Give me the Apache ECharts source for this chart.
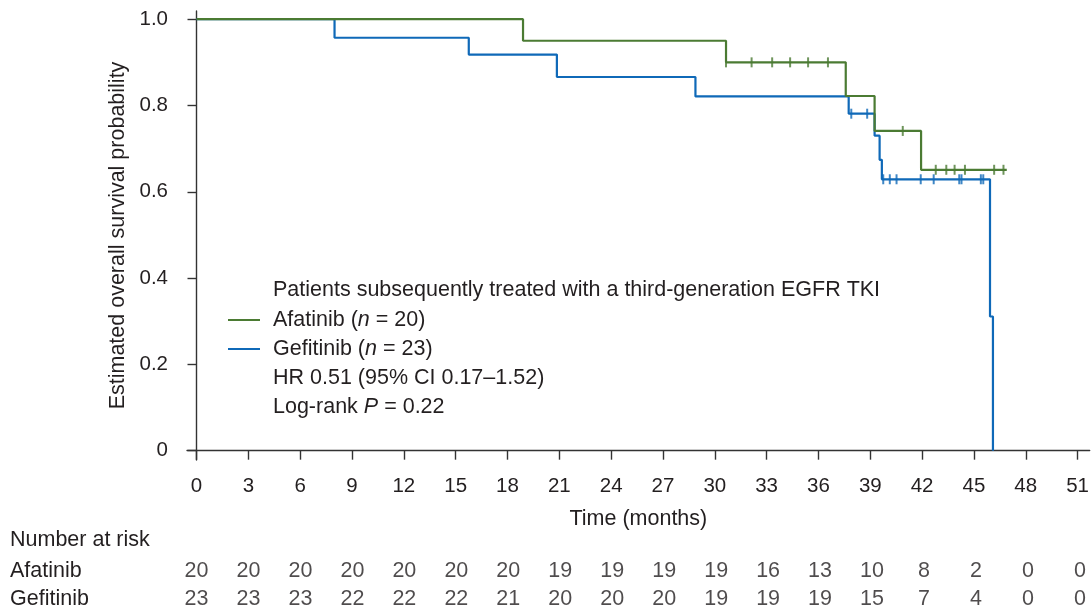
<!DOCTYPE html>
<html><head><meta charset="utf-8">
<script src="https://cdn.jsdelivr.net/npm/echarts@6/dist/echarts.min.js"></script>
<style>html,body{margin:0;padding:0;background:#fff}#c{width:1092px;height:613px}</style>
</head><body><div id="c"></div>
<script>
// ---- data ----
const xTicks = [0,3,6,9,12,15,18,21,24,27,30,33,36,39,42,45,48,51];
const yTicks = [0,0.2,0.4,0.6,0.8,1.0];
const afatinibTimes = [0, 18.9, 30.65, 37.58, 39.25, 41.94, 46.9];
const afatinibSurv  = [1.0, 0.95, 0.90, 0.822, 0.741, 0.651, 0.651];
const afatinibCensor = [30.65, 32.13, 33.32, 34.36, 35.4, 36.55, 40.88, 42.79, 43.4, 43.88, 44.48, 46.17, 46.71];
const gefitinibTimes = [0, 7.99, 15.76, 20.86, 28.88, 37.75, 39.25, 39.54, 39.67, 45.93, 46.1];
const gefitinibSurv  = [1.0, 0.957, 0.918, 0.866, 0.821, 0.781, 0.730, 0.674, 0.629, 0.311, 0];
const gefitinibCensor = [37.9, 38.82, 39.75, 40.13, 40.52, 41.92, 42.67, 44.15, 44.28, 45.4, 45.54];
const afatinibRisk  = [20,20,20,20,20,20,20,19,19,19,19,16,13,10,8,2,0,0];
const gefitinibRisk = [23,23,23,22,22,22,21,20,20,20,19,19,19,15,7,4,0,0];
const seriesNames = ['Afatinib (n = 20)', 'Gefitinib (n = 23)'];
const riskRows = ['Afatinib', 'Gefitinib'];

// ---- style ----
const GREEN = '#4b7b33', BLUE = '#0f69b8', TXT = '#231f20', AX = '#333333';
const FONT = 'Liberation Sans, Arial, Helvetica, sans-serif';
const FS = 21.5, FST = 20.5;

function survAt(times, surv, t) {
  let v = surv[0];
  for (let i = 0; i < times.length; i++) if (times[i] <= t) v = surv[i];
  return v;
}
const pairs = (ts, ss) => ts.map((t, i) => [t, ss[i]]);

const chart = echarts.init(document.getElementById('c'), null, {renderer: 'canvas'});
const X_MIN = -0.55, X_MAX = 51.7;
const option = {
  animation: false,
  backgroundColor: '#fff',
  textStyle: {fontFamily: FONT, color: TXT},
  grid: [
    {left: 187, right: 0, top: 11, bottom: 153, containLabel: false},
    {left: 187, right: 0, top: 557, height: 60, containLabel: false}
  ],
  xAxis: [
    {
      type: 'value', gridIndex: 0, min: X_MIN, max: X_MAX,
      axisLine: {show: true, lineStyle: {color: AX, width: 1.4}},
      axisTick: {show: true, length: 9, lineStyle: {color: AX, width: 1.4}, customValues: xTicks},
      axisLabel: {show: true, customValues: xTicks, margin: 16, fontSize: FST, color: TXT, fontFamily: FONT},
      splitLine: {show: false},
      name: 'Time (months)', nameLocation: 'middle', nameGap: 48,
      nameTextStyle: {fontSize: FS, color: TXT, fontFamily: FONT}
    },
    {type: 'value', gridIndex: 1, min: X_MIN, max: X_MAX, show: false}
  ],
  yAxis: [
    {
      type: 'value', gridIndex: 0, min: -0.0216, max: 1.019,
      axisLine: {show: true, lineStyle: {color: AX, width: 1.4}},
      axisTick: {show: true, length: 9, lineStyle: {color: AX, width: 1.4}, customValues: yTicks},
      axisLabel: {show: true, customValues: yTicks, margin: 19, fontSize: FST, color: TXT, fontFamily: FONT,
        formatter: v => (v === 0 ? '0' : v.toFixed(1))},
      splitLine: {show: false},
      name: 'Estimated overall survival probability', nameLocation: 'middle', nameGap: 54,
      nameTextStyle: {fontSize: FS, color: TXT, fontFamily: FONT}
    },
    {
      type: 'category', gridIndex: 1, data: riskRows, inverse: true,
      axisLine: {show: false}, axisTick: {show: false},
      axisLabel: {show: true, interval: 0, hideOverlap: false, align: 'left', margin: 177,
        fontSize: FS, color: TXT, fontFamily: FONT}
    }
  ],
  legend: {
    data: seriesNames,
    orient: 'vertical', left: 228, top: 309, padding: 0,
    icon: 'rect', itemWidth: 32, itemHeight: 2, itemGap: 7,
    textStyle: {fontSize: FS, color: TXT, fontFamily: FONT, lineHeight: 21,
      rich: {
        a: {fontSize: FS, color: TXT, fontFamily: FONT, lineHeight: 21},
        p: {fontSize: FS, color: TXT, fontFamily: FONT, lineHeight: 21, padding: [0,0,0,8]},
        i: {fontSize: FS, color: TXT, fontFamily: FONT, fontStyle: 'italic', lineHeight: 21}
      }},
    formatter: name => {
      const m = name.match(/^(\S+) \(n = (\d+)\)$/);
      return '{p|' + m[1] + ' (}{i|n}{a| = ' + m[2] + ')}';
    },
    selectedMode: false
  },
  graphic: [
    {type: 'text', x: 273, y: 290, style: {text: 'Patients subsequently treated with a third-generation EGFR TKI',
      fontSize: FS, fontFamily: FONT, fill: TXT, verticalAlign: 'middle'}},
    {type: 'text', x: 273, y: 378, style: {text: 'HR 0.51 (95% CI 0.17\u20131.52)',
      fontSize: FS, fontFamily: FONT, fill: TXT, verticalAlign: 'middle'}},
    {type: 'text', x: 273, y: 407, style: {text: '{a|Log-rank }{i|P}{a| = 0.22}', verticalAlign: 'middle',
      rich: {a: {fontSize: FS, fontFamily: FONT, fill: TXT}, i: {fontSize: FS, fontFamily: FONT, fill: TXT, fontStyle: 'italic'}}}},
    {type: 'text', x: 10, y: 540, style: {text: 'Number at risk', fontSize: FS, fontFamily: FONT, fill: TXT, verticalAlign: 'middle'}}
  ],
  series: [
    {
      name: seriesNames[1], type: 'line', step: 'end', xAxisIndex: 0, yAxisIndex: 0,
      data: pairs(gefitinibTimes, gefitinibSurv), showSymbol: false, symbol: 'none',
      itemStyle: {color: BLUE}, lineStyle: {color: BLUE, width: 2.2}, z: 2
    },
    {
      name: 'Gefitinib censored', type: 'scatter', xAxisIndex: 0, yAxisIndex: 0,
      data: gefitinibCensor.map(t => [t, survAt(gefitinibTimes, gefitinibSurv, t)]),
      symbol: 'rect', symbolSize: [2, 10], itemStyle: {color: BLUE}, z: 3
    },
    {
      name: seriesNames[0], type: 'line', step: 'end', xAxisIndex: 0, yAxisIndex: 0,
      data: pairs(afatinibTimes, afatinibSurv), showSymbol: false, symbol: 'none',
      itemStyle: {color: GREEN}, lineStyle: {color: GREEN, width: 2.2}, z: 4
    },
    {
      name: 'Afatinib censored', type: 'scatter', xAxisIndex: 0, yAxisIndex: 0,
      data: afatinibCensor.map(t => [t, survAt(afatinibTimes, afatinibSurv, t)]),
      symbol: 'rect', symbolSize: [2, 10], itemStyle: {color: GREEN}, z: 5
    },
    {
      name: 'Risk', type: 'scatter', xAxisIndex: 1, yAxisIndex: 1,
      data: xTicks.map((t, i) => [t, riskRows[0], afatinibRisk[i]])
        .concat(xTicks.map((t, i) => [t, riskRows[1], gefitinibRisk[i]])),
      symbolSize: 0, itemStyle: {color: 'rgba(0,0,0,0)'},
      label: {show: true, position: 'inside', formatter: p => String(p.value[2]),
        fontSize: FS, color: TXT, fontFamily: FONT}
    }
  ]
};
chart.setOption(option);
</script>
</body></html>
